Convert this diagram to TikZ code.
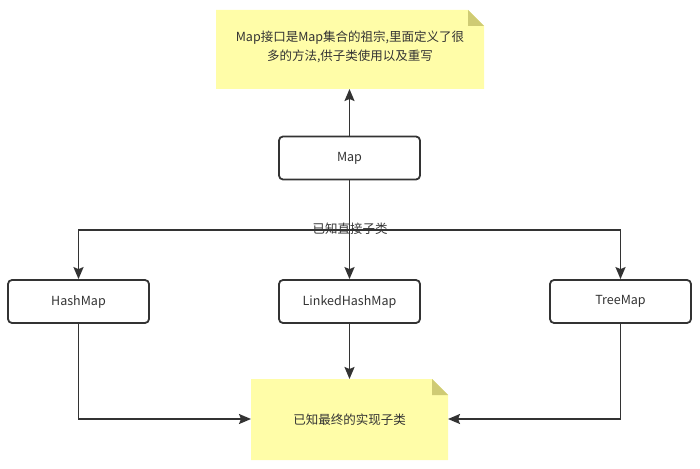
\documentclass[tikz,border=0pt]{standalone}
\usepackage{fontspec}
\setmainfont{Noto Sans CJK SC}
\usetikzlibrary{arrows.meta}
\definecolor{ink}{HTML}{333333}
\definecolor{notefill}{HTML}{FFFDA8}
\definecolor{foldfill}{HTML}{CFCB74}
\begin{document}
\begin{tikzpicture}[x=1pt,y=-1pt,
  box/.style={draw=ink,line width=1.8pt,rounded corners=4pt,minimum width=141pt,minimum height=43pt,inner sep=0pt,text=ink,font=\fontsize{12.5}{15}\selectfont},
  conn/.style={draw=ink,line width=1.8pt,-{Stealth[length=12pt,width=10pt,inset=2pt]}},
  lbl/.style={text=ink,font=\fontsize{12.5}{19}\selectfont,align=center}]
\useasboundingbox (0,0) rectangle (700,468);
% top note
\fill[notefill] (216,10) -- (468,10) -- (484,26) -- (484,89) -- (216,89) -- cycle;
\fill[foldfill] (468,10) -- (484,26) -- (468,26) -- cycle;
\coordinate (notetop) at (349.5,89);
\node[lbl] (notetext) at (350,47) {Map接口是Map集合的祖宗,里面定义了很\\多的方法,供子类使用以及重写};
% bottom note
\fill[notefill] (251,379) -- (432,379) -- (448,395) -- (448,460) -- (251,460) -- cycle;
\fill[foldfill] (432,379) -- (448,395) -- (432,395) -- cycle;
\coordinate (botleft) at (251,419);
\coordinate (botright) at (448,419);
\coordinate (bottop) at (349.5,379);
\node[lbl] (bottext) at (349.5,420) {已知最终的实现子类};
% boxes
\node[box] (map) at (349.5,158) {Map};
\node[box] (hash) at (78.5,301.5) {HashMap};
\node[box] (linked) at (349.5,301.5) {LinkedHashMap};
\node[box] (tree) at (620.5,301.5) {TreeMap};
% connectors
\draw[conn] (map.north) -- (notetop);
\coordinate (split) at (349.5,230);
\draw[conn] (map.south) -- (split) -| (hash.north);
\draw[conn] (split) -| (tree.north);
\draw[conn] (split) -- (linked.north);
\node[lbl] (direct) at (350,229) {已知直接子类};
\draw[conn] (hash.south) |- (botleft);
\draw[conn] (tree.south) |- (botright);
\draw[conn] (linked.south) -- (bottop);
\end{tikzpicture}
\end{document}
